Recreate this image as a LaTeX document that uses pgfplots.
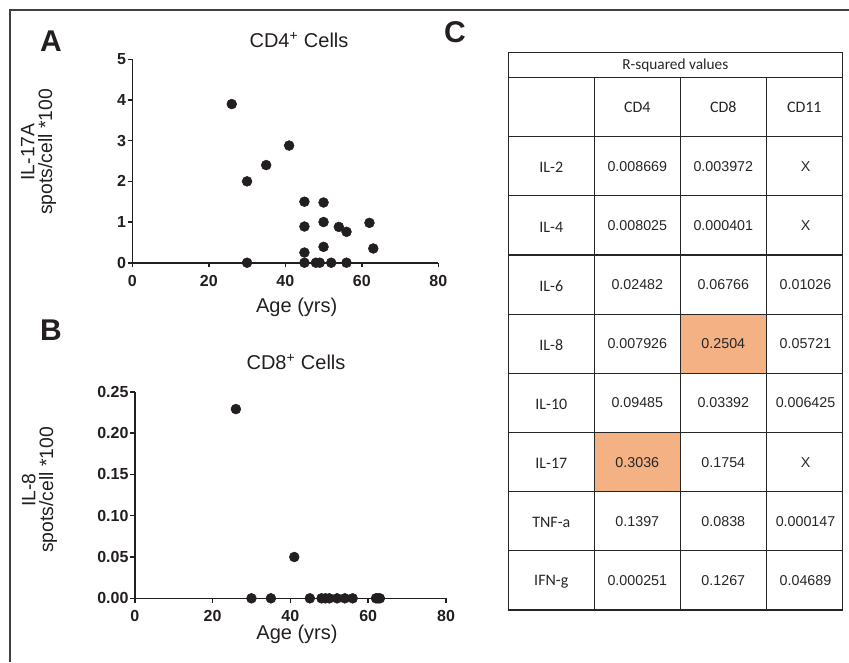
\documentclass[border=0pt]{standalone}
\usepackage{fontspec}
\setmainfont{Liberation Sans}
\newfontfamily\calib{Carlito}
\usepackage{pgfplots}
\pgfplotsset{compat=1.18}

\definecolor{ink}{HTML}{231F20}
\definecolor{hl}{HTML}{F4B183}

\pgfplotsset{
  panel/.style={
    scale only axis, anchor=south west,
    axis lines=left, axis line style={ink, line width=1.2pt, -},
    tick align=outside, major tick length=3.5pt,
    tick style={ink, line width=1.2pt},
    xmin=0, xmax=80, xtick={0,20,40,60,80}, ymin=0,
    tick label style={font=\fontsize{12}{14}\selectfont\bfseries, text=ink, inner sep=1pt},
    xticklabel style={yshift=-4.5pt},
    /pgf/number format/assume math mode=true,
    clip=false,
  },
  dots/.style={only marks, mark=*, mark size=3.7pt, ink, mark options={fill=ink, draw=ink}},
}

\begin{document}
\begin{tikzpicture}
\useasboundingbox (0,0) rectangle (636.75pt,-496.5pt);

% panel A: CD4+ cells, IL-17A
\begin{axis}[panel, at={(99.23pt,-197.03pt)}, width=229.5pt, height=152.55pt,
  ymax=5, ytick={0,1,2,3,4,5}]
\addplot[dots] coordinates {
  (26,3.90) (41,2.88) (35,2.40) (30,2.00) (45,1.50) (50,1.48)
  (45,0.89) (50,1.00) (54,0.88) (56,0.76) (62,0.98) (45,0.25)
  (50,0.39) (63,0.35) (30,0) (45,0) (48,0) (49,0) (52,0) (56,0)
};
\end{axis}

% panel B: CD8+ cells, IL-8
\begin{axis}[panel, at={(101.03pt,-448.73pt)}, width=233.5pt, height=154.95pt,
  ymax=0.25, ytick={0,0.05,0.1,0.15,0.2,0.25}, scaled y ticks=false,
  yticklabel style={/pgf/number format/fixed, /pgf/number format/fixed zerofill,
    /pgf/number format/precision=2}]
\addplot[dots] coordinates {
  (26,0.229) (41,0.05) (30,0) (35,0) (45,0) (48,0) (49,0) (50,0)
  (52,0) (54,0) (56,0) (62,0) (62.5,0) (63,0)
};
\end{axis}

\begin{scope}[x=0.75pt, y=-0.75pt]
% frame
\draw[line width=1.1pt, black!75] (10,662) -- (10,10) -- (849,10);

% panel letters
\foreach \l/\px/\py in {A/51/41.5, B/51/330, C/455/32}
  \node[font=\fontsize{22.5}{24}\selectfont\bfseries, text=ink] at (\px,\py) {\l};

% titles and labels
\node[font=\fontsize{15}{17}\selectfont, text=ink] at (299,40) {CD4\textsuperscript{+} Cells};
\node[font=\fontsize{15}{17}\selectfont, text=ink] at (296,362) {CD8\textsuperscript{+} Cells};
\node[font=\fontsize{15}{17}\selectfont, text=ink] at (296.7,307.5) {Age (yrs)};
\node[font=\fontsize{15}{17}\selectfont, text=ink] at (297,634) {Age (yrs)};
\node[rotate=90, align=center, inner sep=0pt, font=\fontsize{14.5}{13.4}\selectfont, text=ink]
  at (38.6,152) {IL-17A\\spots/cell *100};
\node[rotate=90, align=center, inner sep=0pt, font=\fontsize{14.5}{13.4}\selectfont, text=ink]
  at (39.5,490) {IL-8\\spots/cell *100};

% table C
\fill[hl] (680.3,314.3) rectangle (766.3,373.5);
\fill[hl] (594.3,432.3) rectangle (680.3,491.7);
\draw[black!85, line width=0.8pt] (508.3,52.7) rectangle (842.3,610);
\draw[black!85, line width=0.8pt] (508.3,77.3) -- (842.3,77.3);
\foreach \yy in {136.7,195.9,255,314.2,373.4,432.5,491.7,550.8}
  \draw[black!85, line width=0.8pt] (508.3,\yy) -- (842.3,\yy);
\foreach \xx in {594.3,680.3,766.3}
  \draw[black!85, line width=0.8pt] (\xx,77.3) -- (\xx,610);

\node[font=\calib\fontsize{11.5}{13}\selectfont, text=black!85] at (675.3,65) {R-squared values};
\foreach \h/\xx in {CD4/637.3, CD8/723.3, CD11/804.3}
  \node[font=\calib\fontsize{12}{14}\selectfont, text=black!85] at (\xx,107) {\h};

\foreach \lab/\a/\b/\c [count=\i] in {
  IL-2/0.008669/0.003972/X,
  IL-4/0.008025/0.000401/X,
  IL-6/0.02482/0.06766/0.01026,
  IL-8/0.007926/0.2504/0.05721,
  IL-10/0.09485/0.03392/0.006425,
  IL-17/0.3036/0.1754/X,
  TNF-a/0.1397/0.0838/0.000147,
  IFN-g/0.000251/0.1267/0.04689} {
  \pgfmathsetmacro{\yc}{136.7+59.16*(\i-0.5)}
  \node[font=\calib\fontsize{12}{14}\selectfont, text=black!85] at (551.3,\yc+1.5) {\lab};
  \node[font=\rmfamily\fontsize{10.7}{12}\selectfont, text=black!85] at (637.3,\yc) {\a};
  \node[font=\rmfamily\fontsize{10.7}{12}\selectfont, text=black!85] at (723.3,\yc) {\b};
  \node[font=\rmfamily\fontsize{10.7}{12}\selectfont, text=black!85] at (805.5,\yc) {\c};
}
\end{scope}
\end{tikzpicture}
\end{document}
